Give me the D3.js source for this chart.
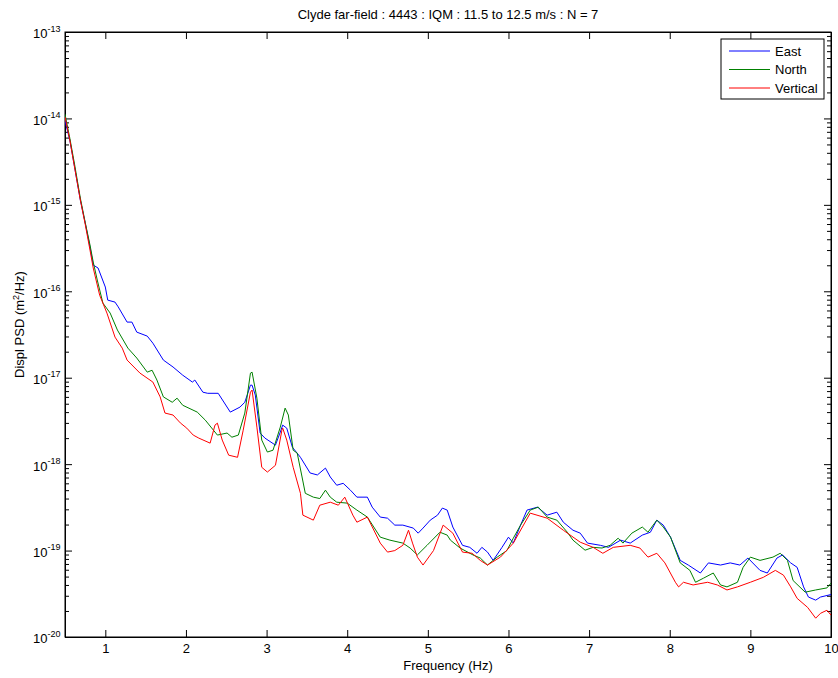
<!DOCTYPE html>
<html>
<head>
<meta charset="utf-8">
<script src="https://cdn.jsdelivr.net/npm/d3@7"></script>
<style>
  body { margin: 0; background: #fff; }
  svg text { font-family: Arial, "Liberation Sans", Helvetica, sans-serif; fill: #000; }
  .axis path, .axis line { stroke: #000; }
</style>
</head>
<body>
<svg id="chart"></svg>
<script>
const titleText = 'Clyde far-field : 4443 : IQM : 11.5 to 12.5 m/s : N = 7';
const seriesNames = ['East', 'North', 'Vertical'];
const seriesColors = ['#0000ff', '#008000', '#ff0000'];
const xTicks = [1, 2, 3, 4, 5, 6, 7, 8, 9, 10];
const yDecades = [-20, -19, -18, -17, -16, -15, -14, -13];

// [frequency (Hz), displacement PSD (m^2/Hz)]
const east = [
  [0.50, 1.0e-14], [0.51, 8.6e-15], [0.56, 5.6e-15], [0.62, 2.7e-15], [0.69, 1.14e-15],
  [0.75, 6.2e-16], [0.81, 3.25e-16], [0.85, 2.01e-16], [0.91, 1.86e-16], [1.00, 1.12e-16],
  [1.03, 7.9e-17], [1.12, 7.5e-17], [1.16, 6.6e-17], [1.27, 4.4e-17], [1.33, 4.4e-17],
  [1.39, 3.37e-17], [1.52, 3.03e-17], [1.59, 2.51e-17], [1.72, 1.6e-17], [1.84, 1.33e-17],
  [1.96, 1.07e-17], [2.08, 8.9e-18], [2.11, 9.4e-18], [2.21, 6.8e-18], [2.27, 6.6e-18],
  [2.40, 6.6e-18], [2.55, 4.0e-18], [2.67, 4.57e-18], [2.73, 5.2e-18], [2.80, 8.2e-18],
  [2.82, 8.2e-18], [2.86, 6.3e-18], [2.92, 2.29e-18], [2.98, 2.0e-18], [3.11, 1.66e-18],
  [3.17, 2.35e-18], [3.20, 2.83e-18], [3.25, 2.61e-18], [3.32, 1.57e-18], [3.42, 1.2e-18],
  [3.54, 7.9e-19], [3.63, 7.5e-19], [3.73, 9.0e-19], [3.79, 7.1e-19], [3.87, 5.7e-19],
  [3.95, 6.0e-19], [4.04, 5.0e-19], [4.12, 4.15e-19], [4.25, 4.15e-19], [4.31, 3.18e-19],
  [4.41, 2.44e-19], [4.50, 2.37e-19], [4.59, 1.97e-19], [4.69, 1.97e-19], [4.82, 1.82e-19],
  [4.88, 1.59e-19], [4.94, 1.82e-19], [5.03, 2.25e-19], [5.12, 2.57e-19], [5.18, 3.1e-19],
  [5.24, 2.94e-19], [5.31, 1.87e-19], [5.43, 1.15e-19], [5.52, 1.09e-19], [5.61, 9.3e-20],
  [5.67, 1.09e-19], [5.74, 9.6e-20], [5.81, 7.7e-20], [5.92, 1.09e-19], [6.00, 1.43e-19],
  [6.06, 1.22e-19], [6.15, 1.97e-19], [6.23, 2.94e-19], [6.36, 3.18e-19], [6.48, 2.57e-19],
  [6.60, 2.78e-19], [6.68, 2.13e-19], [6.80, 1.72e-19], [6.89, 1.59e-19], [6.98, 1.22e-19],
  [7.14, 1.15e-19], [7.24, 1.09e-19], [7.39, 1.32e-19], [7.51, 1.22e-19], [7.66, 1.51e-19],
  [7.76, 1.63e-19], [7.84, 2.25e-19], [7.92, 1.97e-19], [8.01, 1.43e-19], [8.13, 7.7e-20],
  [8.23, 6.8e-20], [8.38, 5.5e-20], [8.48, 7.2e-20], [8.63, 6.8e-20], [8.75, 7.2e-20],
  [8.87, 6.8e-20], [8.97, 8.2e-20], [9.12, 5.9e-20], [9.21, 5.5e-20], [9.33, 8.2e-20],
  [9.40, 8.9e-20], [9.50, 7.2e-20], [9.58, 6.4e-20], [9.66, 3.8e-20], [9.72, 2.9e-20],
  [9.81, 2.67e-20], [9.87, 2.9e-20], [10.0, 3.1e-20]
];

const north = [
  [0.50, 1.12e-14], [0.56, 5.9e-15], [0.62, 2.9e-15], [0.69, 1.2e-15], [0.75, 6.3e-16],
  [0.81, 3.43e-16], [0.85, 2.18e-16], [0.90, 1.35e-16], [0.97, 7.3e-17], [1.06, 5.6e-17],
  [1.15, 3.56e-17], [1.28, 2.2e-17], [1.39, 1.69e-17], [1.52, 1.16e-17], [1.58, 1.22e-17],
  [1.64, 9.4e-18], [1.72, 6.0e-18], [1.83, 5.2e-18], [1.89, 5.8e-18], [1.96, 4.8e-18],
  [2.14, 4.0e-18], [2.24, 3.23e-18], [2.39, 2.17e-18], [2.51, 2.29e-18], [2.57, 2.05e-18],
  [2.65, 2.17e-18], [2.73, 3.9e-18], [2.80, 1.13e-17], [2.82, 1.16e-17], [2.88, 5.8e-18],
  [2.94, 1.9e-18], [3.01, 1.38e-18], [3.08, 1.45e-18], [3.17, 2.68e-18], [3.23, 4.45e-18],
  [3.27, 3.7e-18], [3.33, 1.45e-18], [3.38, 1.34e-18], [3.44, 7.1e-19], [3.48, 4.6e-19],
  [3.58, 4.15e-19], [3.66, 4.0e-19], [3.73, 5.0e-19], [3.79, 4.15e-19], [3.87, 3.63e-19],
  [4.00, 3.54e-19], [4.12, 2.94e-19], [4.25, 2.44e-19], [4.41, 1.43e-19], [4.53, 1.32e-19],
  [4.69, 1.22e-19], [4.78, 1.07e-19], [4.87, 8.9e-20], [4.99, 1.15e-19], [5.15, 1.63e-19],
  [5.24, 1.51e-19], [5.28, 1.32e-19], [5.40, 1.07e-19], [5.56, 8.9e-20], [5.65, 8.2e-20],
  [5.74, 6.8e-20], [5.86, 8.4e-20], [5.98, 1.0e-19], [6.06, 1.39e-19], [6.15, 1.97e-19],
  [6.27, 2.94e-19], [6.37, 3.18e-19], [6.48, 2.44e-19], [6.60, 2.25e-19], [6.73, 1.63e-19],
  [6.80, 1.32e-19], [6.95, 1.01e-19], [7.05, 1.09e-19], [7.16, 1.07e-19], [7.26, 1.15e-19],
  [7.36, 1.39e-19], [7.42, 1.22e-19], [7.53, 1.59e-19], [7.66, 1.87e-19], [7.73, 1.63e-19],
  [7.84, 2.25e-19], [7.92, 1.87e-19], [8.01, 1.43e-19], [8.13, 7.2e-20], [8.25, 5.9e-20],
  [8.32, 4.3e-20], [8.42, 4.8e-20], [8.54, 5.5e-20], [8.63, 4.0e-20], [8.71, 3.8e-20],
  [8.84, 4.3e-20], [8.91, 6.4e-20], [9.00, 8.4e-20], [9.12, 7.7e-20], [9.28, 8.4e-20],
  [9.37, 9.3e-20], [9.46, 7.7e-20], [9.53, 4.5e-20], [9.68, 3.3e-20], [9.81, 3.5e-20],
  [9.95, 3.7e-20], [10.0, 4.2e-20]
];

const vertical = [
  [0.50, 1.04e-14], [0.56, 5.6e-15], [0.62, 2.67e-15], [0.69, 1.14e-15], [0.75, 6.0e-16],
  [0.81, 3.0e-16], [0.85, 1.86e-16], [0.93, 9.0e-17], [1.02, 5.6e-17], [1.12, 2.95e-17],
  [1.21, 2.2e-17], [1.27, 1.6e-17], [1.43, 1.13e-17], [1.59, 8.9e-18], [1.68, 6.0e-18],
  [1.74, 3.9e-18], [1.84, 3.7e-18], [1.93, 3.0e-18], [2.01, 2.61e-18], [2.09, 2.17e-18],
  [2.16, 2.0e-18], [2.30, 1.75e-18], [2.36, 2.83e-18], [2.39, 2.98e-18], [2.45, 1.9e-18],
  [2.53, 1.27e-18], [2.64, 1.2e-18], [2.71, 2.47e-18], [2.80, 6.8e-18], [2.82, 7.2e-18],
  [2.88, 2.68e-18], [2.94, 9.2e-19], [3.01, 8.1e-19], [3.11, 9.7e-19], [3.19, 2.47e-18],
  [3.20, 2.61e-18], [3.25, 1.9e-18], [3.33, 9.2e-19], [3.42, 4.6e-19], [3.45, 2.57e-19],
  [3.58, 2.25e-19], [3.66, 3.35e-19], [3.79, 3.63e-19], [3.89, 3.35e-19], [3.97, 4.15e-19],
  [4.07, 2.57e-19], [4.12, 2.13e-19], [4.25, 2.44e-19], [4.41, 1.22e-19], [4.50, 9.6e-20],
  [4.59, 1.0e-19], [4.69, 1.15e-19], [4.76, 1.72e-19], [4.81, 1.22e-19], [4.87, 8.4e-20],
  [4.94, 6.8e-20], [5.07, 1.0e-19], [5.19, 1.97e-19], [5.31, 1.59e-19], [5.43, 9.6e-20],
  [5.55, 9.3e-20], [5.65, 7.7e-20], [5.74, 6.8e-20], [5.90, 8.4e-20], [6.06, 1.22e-19],
  [6.27, 2.71e-19], [6.48, 2.37e-19], [6.68, 1.72e-19], [6.89, 1.25e-19], [7.05, 1.09e-19],
  [7.17, 9.3e-20], [7.30, 1.09e-19], [7.51, 1.15e-19], [7.63, 1.07e-19], [7.73, 8.4e-20],
  [7.84, 9.3e-20], [7.94, 7.2e-20], [8.07, 4.3e-20], [8.11, 3.8e-20], [8.17, 4.3e-20],
  [8.29, 4.0e-20], [8.47, 4.3e-20], [8.59, 4.0e-20], [8.71, 3.5e-20], [8.84, 3.8e-20],
  [9.00, 4.3e-20], [9.16, 4.9e-20], [9.31, 5.9e-20], [9.41, 5.2e-20], [9.50, 3.8e-20],
  [9.58, 2.8e-20], [9.71, 2.2e-20], [9.81, 1.65e-20], [9.87, 1.88e-20], [9.95, 2.04e-20],
  [10.0, 1.79e-20]
];

class PsdChart {
  constructor(_config, _series) {
    this.config = {
      parentElement: _config.parentElement,
      containerWidth: _config.containerWidth || 838,
      containerHeight: _config.containerHeight || 678,
      margin: {top: 32, right: 7, bottom: 41, left: 65}
    };
    this.series = _series;
    this.initVis();
  }

  initVis() {
    let vis = this;

    vis.width = vis.config.containerWidth - vis.config.margin.left - vis.config.margin.right;
    vis.height = vis.config.containerHeight - vis.config.margin.top - vis.config.margin.bottom;

    vis.svg = d3.select(vis.config.parentElement)
      .attr('width', vis.config.containerWidth)
      .attr('height', vis.config.containerHeight);

    vis.xScale = d3.scaleLinear()
      .domain([0.5, 10])
      .range([0, vis.width]);

    vis.yScale = d3.scaleLog()
      .domain([1e-20, 1e-13])
      .range([vis.height, 0]);

    vis.chart = vis.svg.append('g')
      .attr('transform', `translate(${vis.config.margin.left},${vis.config.margin.top})`);

    vis.chart.append('clipPath').attr('id', 'plot-clip')
      .append('rect').attr('width', vis.width).attr('height', vis.height);

    vis.renderVis();
  }

  renderVis() {
    let vis = this;
    const majors = yDecades.map(e => Math.pow(10, e));
    const minors = [];
    yDecades.slice(0, -1).forEach(e => {
      for (let m = 2; m <= 9; m++) minors.push(m * Math.pow(10, e));
    });

    // x axes (bottom + top), ticks pointing inward
    vis.chart.append('g')
      .attr('class', 'axis x-axis')
      .attr('transform', `translate(0,${vis.height})`)
      .call(d3.axisBottom(vis.xScale).tickValues(xTicks).tickSize(-7).tickPadding(7).tickSizeOuter(0))
      .call(g => g.selectAll('text').attr('font-size', 13));

    vis.chart.append('g')
      .attr('class', 'axis')
      .call(d3.axisTop(vis.xScale).tickValues(xTicks).tickSize(-7).tickFormat('').tickSizeOuter(0));

    // y axes: minor then major ticks, left and right
    vis.chart.append('g').attr('class', 'axis')
      .call(d3.axisLeft(vis.yScale).tickValues(minors).tickSize(-4).tickFormat('').tickSizeOuter(0));
    vis.chart.append('g').attr('class', 'axis')
      .attr('transform', `translate(${vis.width},0)`)
      .call(d3.axisRight(vis.yScale).tickValues(minors).tickSize(-4).tickFormat('').tickSizeOuter(0));
    vis.chart.append('g').attr('class', 'axis')
      .attr('transform', `translate(${vis.width},0)`)
      .call(d3.axisRight(vis.yScale).tickValues(majors).tickSize(-7).tickFormat('').tickSizeOuter(0));

    const yAxisG = vis.chart.append('g').attr('class', 'axis y-axis')
      .call(d3.axisLeft(vis.yScale).tickValues(majors).tickSize(-7).tickSizeOuter(0));

    // "10" with the exponent as a superscript
    yAxisG.selectAll('.tick text')
      .text(null)
      .attr('font-size', 13)
      .attr('text-anchor', 'start')
      .attr('x', -32)
      .attr('dy', '0.45em')
      .each(function(d) {
        const t = d3.select(this);
        t.append('tspan').text('10');
        t.append('tspan').attr('font-size', 9).attr('dy', '-0.75em')
          .text(Math.round(Math.log10(d)));
      });

    // box
    vis.chart.append('rect')
      .attr('width', vis.width).attr('height', vis.height)
      .attr('fill', 'none').attr('stroke', '#000');

    const line = d3.line()
      .x(d => vis.xScale(d[0]))
      .y(d => vis.yScale(d[1]));

    vis.chart.append('g').attr('clip-path', 'url(#plot-clip)')
      .selectAll('.psd-line')
      .data(vis.series)
      .join('path')
      .attr('class', 'psd-line')
      .attr('fill', 'none')
      .attr('stroke', (d, i) => seriesColors[i])
      .attr('stroke-width', 1)
      .attr('stroke-linejoin', 'round')
      .attr('d', d => line(d));

    // title and axis labels
    vis.svg.append('text')
      .attr('x', vis.config.margin.left + vis.width / 2)
      .attr('y', 19)
      .attr('text-anchor', 'middle')
      .attr('font-size', 13)
      .text(titleText);

    vis.svg.append('text')
      .attr('x', vis.config.margin.left + vis.width / 2)
      .attr('y', 670)
      .attr('text-anchor', 'middle')
      .attr('font-size', 13)
      .text('Frequency (Hz)');

    const yLabel = vis.svg.append('text')
      .attr('transform', `translate(24,${vis.config.margin.top + vis.height / 2 - 10}) rotate(-90)`)
      .attr('text-anchor', 'middle')
      .attr('font-size', 13);
    yLabel.append('tspan').text('Displ PSD (m');
    yLabel.append('tspan').attr('font-size', 9).attr('dy', -5).text('2');
    yLabel.append('tspan').attr('dy', 5).text('/Hz)');

    // legend
    const legend = vis.chart.append('g')
      .attr('transform', `translate(${vis.width - 110},7)`);
    legend.append('rect')
      .attr('width', 103).attr('height', 60)
      .attr('fill', '#fff').attr('stroke', '#000');
    seriesNames.forEach((name, i) => {
      const row = legend.append('g').attr('transform', `translate(0,${12 + i * 18.5})`);
      row.append('line').attr('x1', 8).attr('x2', 49)
        .attr('stroke', seriesColors[i]).attr('stroke-width', 1);
      row.append('text').attr('x', 54).attr('dy', '0.35em')
        .attr('font-size', 13).text(name);
    });
  }
}

new PsdChart({parentElement: '#chart'}, [east, north, vertical]);
</script>
</body>
</html>
